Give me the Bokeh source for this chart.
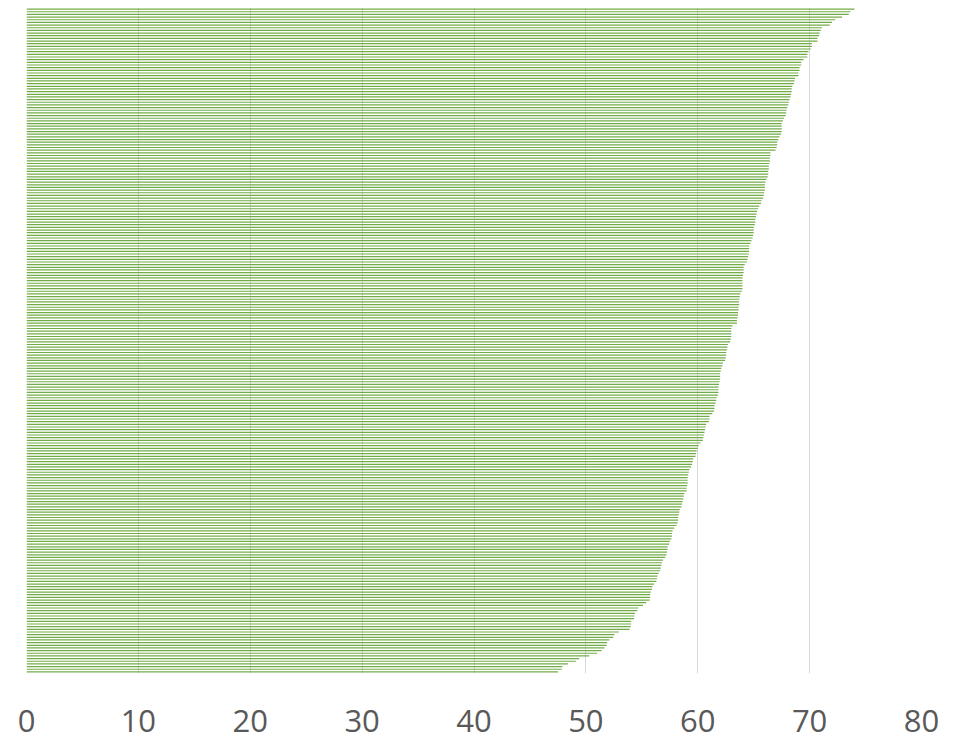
from bokeh.plotting import figure
from bokeh.models import Range1d, FixedTicker
from bokeh.embed import file_html
from bokeh.resources import INLINE

# values, top bar first (sorted descending)
values = [
    74.0, 73.65, 73.5, 72.9, 72.3, 72.0, 71.8, 71.1, 71.0, 70.9,
    70.85, 70.7, 70.7, 70.2, 70.2, 70.1, 69.9, 69.8, 69.8, 69.45,
    69.25, 69.25, 69.1, 69.1, 69.0, 69.0, 68.7, 68.65, 68.6, 68.45,
    68.4, 68.4, 68.35, 68.3, 68.2, 68.15, 68.1, 68.0, 67.95, 67.9,
    67.85, 67.7, 67.6, 67.5, 67.5, 67.5, 67.5, 67.45, 67.3, 67.2,
    67.1, 67.1, 67.05, 66.95, 66.5, 66.5, 66.45, 66.45, 66.4, 66.35,
    66.35, 66.3, 66.3, 66.25, 66.15, 66.05, 66.0, 66.0, 66.0, 65.95,
    65.9, 65.85, 65.7, 65.65, 65.5, 65.4, 65.3, 65.25, 65.2, 65.15,
    65.15, 65.1, 65.0, 65.0, 65.0, 64.95, 64.9, 64.8, 64.7, 64.6,
    64.6, 64.6, 64.55, 64.5, 64.45, 64.4, 64.2, 64.1, 64.1, 64.1,
    64.05, 64.0, 64.0, 64.0, 64.0, 64.0, 63.95, 63.8, 63.75, 63.72,
    63.7, 63.7, 63.65, 63.65, 63.6, 63.6, 63.55, 63.5, 63.5, 63.1,
    63.0, 63.0, 63.0, 63.0, 62.95, 62.9, 62.7, 62.65, 62.6, 62.55,
    62.55, 62.5, 62.45, 62.25, 62.2, 62.1, 62.05, 62.0, 62.0, 62.0,
    61.95, 61.9, 61.85, 61.85, 61.85, 61.8, 61.7, 61.65, 61.6, 61.5,
    61.5, 61.45, 61.3, 61.05, 61.05, 61.0, 60.75, 60.7, 60.65, 60.6,
    60.55, 60.5, 60.45, 60.25, 60.07, 60.0, 59.9, 59.85, 59.8, 59.6,
    59.55, 59.5, 59.4, 59.25, 59.2, 59.15, 59.1, 59.1, 59.1, 59.05,
    59.0, 59.0, 58.8, 58.75, 58.7, 58.65, 58.6, 58.55, 58.4, 58.35,
    58.3, 58.25, 58.25, 58.2, 58.1, 57.9, 57.75, 57.7, 57.7, 57.65,
    57.5, 57.45, 57.3, 57.3, 57.25, 57.2, 57.1, 56.9, 56.8, 56.75,
    56.7, 56.65, 56.5, 56.4, 56.35, 56.3, 56.1, 55.95, 55.9, 55.8,
    55.75, 55.75, 55.7, 55.4, 55.1, 54.7, 54.6, 54.4, 54.35, 54.3,
    54.05, 54.05, 54.0, 53.9, 52.95, 52.55, 52.45, 52.1, 51.9, 51.85,
    51.65, 51.4, 51.0, 50.3, 49.4, 49.1, 48.4, 47.9, 47.85, 47.5,
]
tick_values = [0, 10, 20, 30, 40, 50, 60, 70, 80]
tick_labels = ["0", "10", "20", "30", "40", "50", "60", "70", "80"]

n = len(values)
positions = [n - 1 - i for i in range(n)]

p = figure(width=947, height=743, output_backend="svg", toolbar_location=None,
           x_range=Range1d(0, 80), y_range=Range1d(-0.6, n - 1 + 0.6),
           min_border_left=26, min_border_right=26, min_border_top=7,
           min_border_bottom=70)
p.outline_line_color = None
p.background_fill_color = "white"

p.hbar(y=positions, left=0, right=values, height=0.45,
       fill_color="#70AD47", line_color=None)

p.yaxis.visible = False
p.ygrid.grid_line_color = None
p.xgrid.grid_line_color = "#D9D9D9"
p.xgrid.grid_line_width = 1
p.xgrid.ticker = FixedTicker(ticks=tick_values)

ax = p.xaxis[0]
ax.ticker = FixedTicker(ticks=tick_values)
ax.major_label_overrides = {v: l for v, l in zip(tick_values, tick_labels)}
ax.axis_line_color = None
ax.major_tick_line_color = None
ax.minor_tick_line_color = None
ax.major_label_text_font = "Open Sans"
ax.major_label_text_font_size = "31px"
ax.major_label_text_color = "#595959"
ax.major_label_standoff = 30

open("out.html", "w").write(file_html(p, INLINE))
